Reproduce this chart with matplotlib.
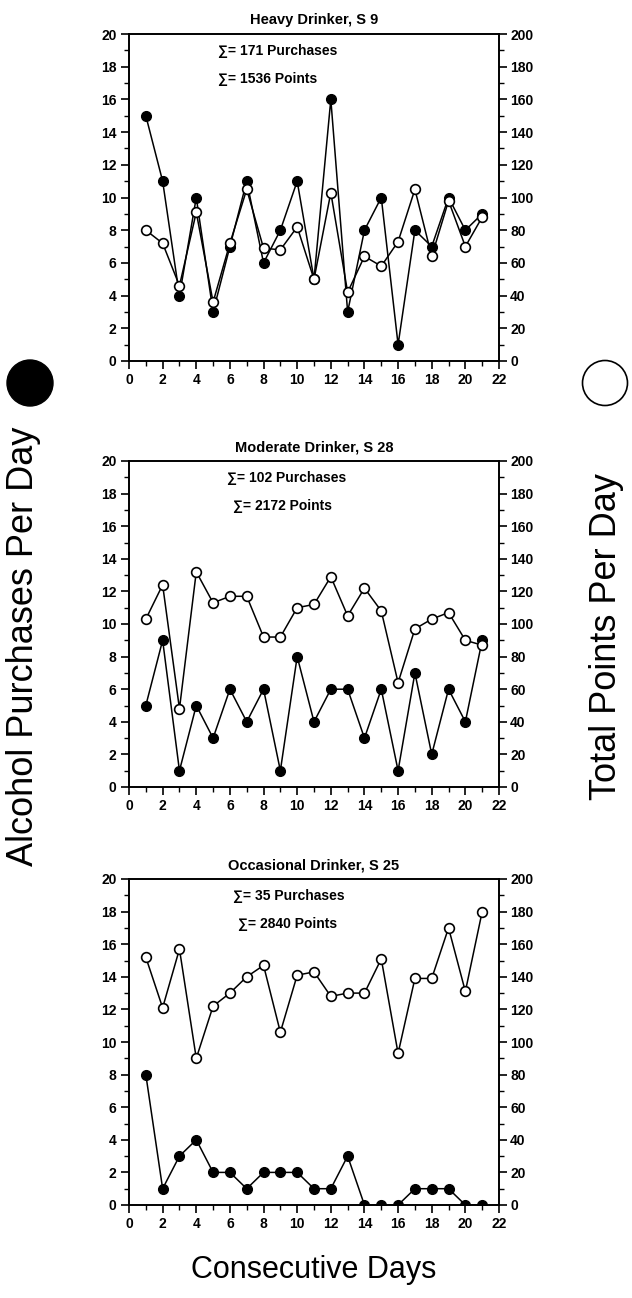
import matplotlib
matplotlib.use("Agg")
import matplotlib.pyplot as plt
from matplotlib.patches import Ellipse
from matplotlib.ticker import MultipleLocator

plt.rcParams['font.family'] = ['Liberation Sans', 'DejaVu Sans']

days = list(range(1, 22))

titles = ["Heavy Drinker, S 9", "Moderate Drinker, S 28", "Occasional Drinker, S 25"]
purchase_totals = [171, 102, 35]
point_totals = [1536, 2172, 2840]

heavy_purchases = [15, 11, 4, 10, 3, 7, 11, 6, 8, 11, 5, 16, 3, 8, 10, 1, 8, 7, 10, 8, 9]
heavy_points = [80, 72, 46, 91, 36, 72, 105, 69, 68, 82, 50, 103, 42, 64, 58, 73, 105, 64, 98, 70, 88]

moderate_purchases = [5, 9, 1, 5, 3, 6, 4, 6, 1, 8, 4, 6, 6, 3, 6, 1, 7, 2, 6, 4, 9]
moderate_points = [103, 124, 48, 132, 113, 117, 117, 92, 92, 110, 112, 129, 105, 122, 108, 64, 97, 103, 107, 90, 87]

occasional_purchases = [8, 1, 3, 4, 2, 2, 1, 2, 2, 2, 1, 1, 3, 0, 0, 0, 1, 1, 1, 0, 0]
occasional_points = [152, 121, 157, 90, 122, 130, 140, 147, 106, 141, 143, 128, 130, 130, 151, 93, 139, 139, 170, 131, 180]

purchases = [heavy_purchases, moderate_purchases, occasional_purchases]
points = [heavy_points, moderate_points, occasional_points]

W, H = 632, 1298
fig = plt.figure(figsize=(W / 100, H / 100), dpi=100)

# axes frames in pixel terms: (top, bottom)
frames = [(34, 361), (461, 787), (879, 1205)]
left_px, right_px = 129, 499
# left edge of the two summary lines per panel
note_x = [(218, 218), (227, 233), (233, 238)]

for i in range(3):
    top, bot = frames[i]
    ax = fig.add_axes([left_px / W, 1 - bot / H, (right_px - left_px) / W, (bot - top) / H])
    ax2 = ax.twinx()

    ax.plot(days, purchases[i], color='black', lw=1.1, marker='o', ms=7,
            mfc='black', mec='black', zorder=2)
    ax2.plot(days, points[i], color='black', lw=1.1, marker='o', ms=7,
             mfc='white', mec='black', mew=1.2, zorder=3)

    ax.set_xlim(0, 22)
    ax.set_ylim(0, 20)
    ax2.set_ylim(0, 200)

    ax.xaxis.set_major_locator(MultipleLocator(2))
    ax.xaxis.set_minor_locator(MultipleLocator(1))
    ax.yaxis.set_major_locator(MultipleLocator(2))
    ax.yaxis.set_minor_locator(MultipleLocator(1))
    ax2.yaxis.set_major_locator(MultipleLocator(20))
    ax2.yaxis.set_minor_locator(MultipleLocator(10))

    for a in (ax, ax2):
        a.tick_params(which='major', direction='out', length=6, width=1.2, pad=3)
        a.tick_params(which='minor', direction='out', length=3.5, width=1.0)
        for s in a.spines.values():
            s.set_linewidth(1.2)
    ax.tick_params(axis='y', which='both', left=True, right=False)
    ax2.tick_params(axis='y', which='both', right=True, left=False, pad=2)

    for lab in ax.get_xticklabels() + ax.get_yticklabels() + ax2.get_yticklabels():
        lab.set_fontsize(10)
        lab.set_fontweight('bold')

    ax.set_title(titles[i], fontsize=10.5, fontweight='bold', pad=7)

    x1 = (note_x[i][0] - left_px) / (right_px - left_px)
    x2 = (note_x[i][1] - left_px) / (right_px - left_px)
    ax.text(x1, 0.948, f"\u2211= {purchase_totals[i]} Purchases", transform=ax.transAxes,
            ha='left', va='center', fontsize=10, fontweight='bold')
    ax.text(x2, 0.862, f"\u2211= {point_totals[i]} Points", transform=ax.transAxes,
            ha='left', va='center', fontsize=10, fontweight='bold')

fig.text(24 / W, 1 - 646 / H, "Alcohol Purchases Per Day", rotation=90,
         ha='center', va='center', fontsize=26)
fig.text(607 / W, 1 - 637 / H, "Total Points Per Day", rotation=90,
         ha='center', va='center', fontsize=26)
fig.text(314 / W, 1 - 1270 / H, "Consecutive Days", ha='center', va='center', fontsize=22)

# symbol keys beside the axis titles
fig.add_artist(Ellipse((30 / W, 1 - 383 / H), 46 / W, 46 / H, transform=fig.transFigure,
                       facecolor='black', edgecolor='black'))
fig.add_artist(Ellipse((605 / W, 1 - 383 / H), 45 / W, 45 / H, transform=fig.transFigure,
                       facecolor='white', edgecolor='black', lw=1.2))

fig.savefig("out.png", dpi=100, facecolor='white')
